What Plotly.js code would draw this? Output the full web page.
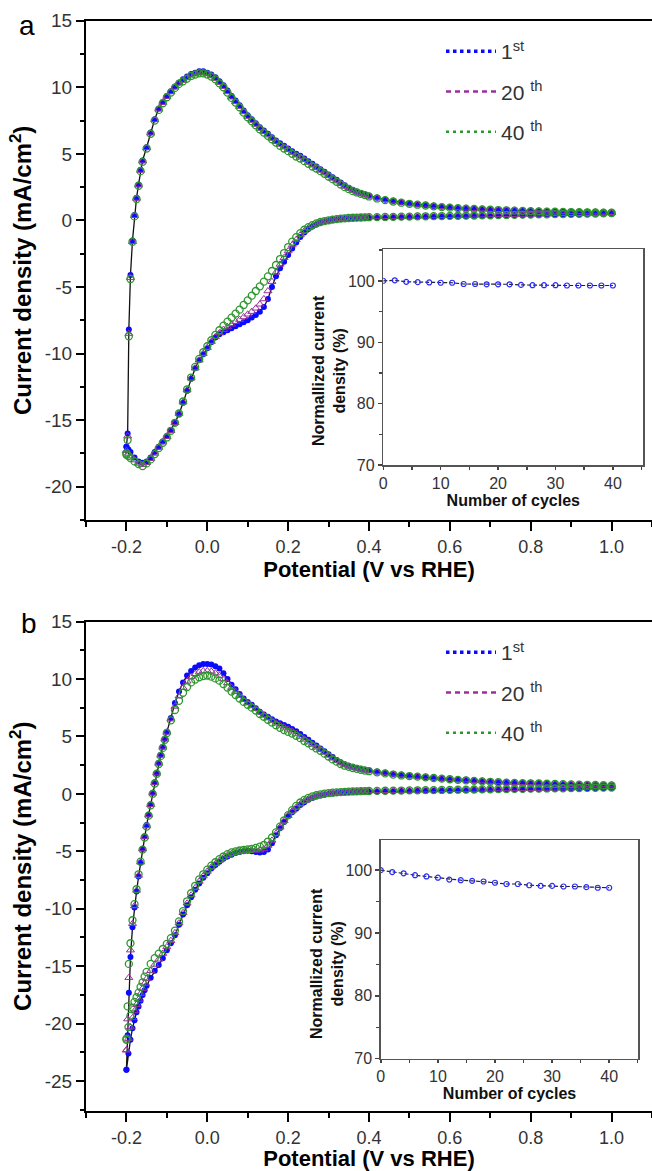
<!DOCTYPE html>
<html>
<head>
<meta charset="utf-8">
<script src="https://cdn.plot.ly/plotly-3.0.1.min.js"></script>
<style>html,body{margin:0;padding:0;background:#fff;}#chart{width:652px;height:1171px;}</style>
</head>
<body>
<div id="chart"></div>
<script>
// ---------- Panel a : potential grids (V vs RHE) ----------
const potA_up = [-0.2,-0.197,-0.194,-0.19,-0.185,-0.18,-0.175,-0.17,-0.165,-0.16,
-0.15,-0.14,-0.13,-0.12,-0.11,-0.1,-0.09,-0.08,-0.07,-0.06,
-0.05,-0.04,-0.03,-0.02,-0.01,0,0.01,0.02,0.03,0.04,
0.05,0.06,0.07,0.08,0.09,0.1,0.11,0.12,0.13,0.14,
0.15,0.16,0.17,0.18,0.19,0.2,0.21,0.22,0.23,0.24,
0.25,0.26,0.27,0.28,0.29,0.3,0.31,0.32,0.33,0.34,
0.35,0.36,0.37,0.38,0.39,0.4,0.42,0.44,0.46,0.48,
0.5,0.52,0.54,0.56,0.58,0.6,0.62,0.64,0.66,0.68,
0.7,0.72,0.74,0.76,0.78,0.8,0.82,0.84,0.86,0.88,
0.9,0.92,0.94,0.96,0.98,1.0];
const potA_down = [1.0,0.98,0.96,0.94,0.92,0.9,0.88,0.86,0.84,0.82,
0.8,0.78,0.76,0.74,0.72,0.7,0.68,0.66,0.64,0.62,
0.6,0.58,0.56,0.54,0.52,0.5,0.48,0.46,0.44,0.42,
0.4,0.39,0.38,0.37,0.36,0.35,0.34,0.33,0.32,0.31,
0.3,0.29,0.28,0.27,0.26,0.25,0.24,0.23,0.22,0.21,
0.2,0.19,0.18,0.17,0.16,0.15,0.14,0.13,0.12,0.11,
0.1,0.09,0.08,0.07,0.06,0.05,0.04,0.03,0.02,0.01,
0,-0.01,-0.02,-0.03,-0.04,-0.05,-0.06,-0.07,-0.08,-0.09,
-0.1,-0.11,-0.12,-0.13,-0.14,-0.15,-0.16,-0.17,-0.18,-0.19,
-0.195,-0.2];

// Panel a current density (mA/cm2), anodic sweep
const a1_up = [-17.0,-16.0,-8.2,-4.1,-1.5,0.4,1.7,2.7,3.8,4.5,
5.5,6.6,7.6,8.4,8.9,9.35,9.7,10.05,10.35,10.6,
10.8,11.0,11.1,11.2,11.2,11.1,10.95,10.75,10.45,10.15,
9.75,9.35,9.0,8.65,8.25,7.9,7.6,7.3,7.0,6.75,
6.5,6.25,6.0,5.8,5.6,5.4,5.2,5.0,4.85,4.65,
4.45,4.25,4.05,3.85,3.65,3.45,3.25,3.05,2.85,2.65,
2.45,2.3,2.15,2.05,1.95,1.85,1.7,1.56,1.45,1.36,
1.28,1.2,1.14,1.08,1.02,0.97,0.93,0.9,0.87,0.84,
0.81,0.79,0.77,0.75,0.73,0.71,0.69,0.67,0.66,0.65,
0.64,0.63,0.62,0.61,0.6,0.59];
const a20_up = [-17.3,-16.2,-8.5,-4.3,-1.6,0.35,1.65,2.65,3.75,4.45,
5.45,6.55,7.55,8.35,8.85,9.3,9.65,10.0,10.3,10.5,
10.7,10.9,11.0,11.1,11.1,11.0,10.85,10.65,10.35,10.05,
9.65,9.25,8.9,8.55,8.15,7.8,7.5,7.2,6.9,6.65,
6.4,6.15,5.9,5.7,5.5,5.3,5.1,4.9,4.75,4.55,
4.35,4.15,3.95,3.75,3.55,3.35,3.15,2.95,2.75,2.55,
2.4,2.25,2.12,2.02,1.92,1.82,1.68,1.55,1.44,1.35,
1.27,1.2,1.14,1.08,1.02,0.98,0.94,0.91,0.88,0.85,
0.82,0.8,0.78,0.76,0.74,0.72,0.7,0.68,0.67,0.66,
0.65,0.64,0.63,0.62,0.61,0.6];
const a40_up = [-17.5,-16.5,-8.7,-4.4,-1.6,0.3,1.6,2.6,3.7,4.4,
5.4,6.5,7.5,8.3,8.8,9.25,9.6,9.95,10.25,10.45,
10.65,10.85,10.95,11.05,11.05,10.95,10.8,10.6,10.3,10.0,
9.6,9.2,8.85,8.5,8.1,7.75,7.45,7.15,6.85,6.6,
6.35,6.1,5.85,5.6,5.4,5.2,5.0,4.8,4.65,4.45,
4.25,4.05,3.9,3.7,3.5,3.3,3.1,2.9,2.7,2.5,
2.35,2.2,2.1,2.0,1.9,1.8,1.65,1.52,1.42,1.33,
1.25,1.18,1.12,1.06,1.0,0.96,0.92,0.89,0.86,0.83,
0.8,0.78,0.76,0.74,0.72,0.7,0.68,0.66,0.65,0.64,
0.63,0.62,0.61,0.6,0.59,0.58];
// Panel a cathodic sweep
const a1_down = [0.5,0.49,0.48,0.47,0.46,0.45,0.44,0.43,0.42,0.41,
0.4,0.39,0.38,0.37,0.36,0.35,0.34,0.33,0.32,0.31,
0.3,0.29,0.28,0.27,0.26,0.25,0.24,0.23,0.22,0.21,
0.2,0.19,0.18,0.17,0.16,0.14,0.12,0.1,0.07,0.04,
-0.04,-0.1,-0.18,-0.3,-0.45,-0.65,-0.9,-1.25,-1.65,-2.1,
-2.6,-3.1,-3.6,-4.2,-5.0,-5.9,-6.5,-6.85,-7.1,-7.3,
-7.5,-7.65,-7.8,-7.95,-8.1,-8.25,-8.4,-8.55,-8.8,-9.15,
-9.6,-10.05,-10.5,-11.1,-11.9,-12.8,-13.7,-14.55,-15.2,-15.75,
-16.2,-16.6,-17.0,-17.4,-17.8,-18.1,-18.2,-18.1,-17.8,-17.4,
-17.2,-17.0];
const a20_down = [0.56,0.54,0.53,0.52,0.51,0.5,0.49,0.48,0.47,0.46,
0.45,0.44,0.43,0.42,0.41,0.4,0.39,0.38,0.37,0.36,
0.35,0.34,0.33,0.32,0.31,0.3,0.29,0.28,0.27,0.26,
0.25,0.24,0.23,0.22,0.2,0.18,0.15,0.12,0.08,0.04,
-0.02,-0.08,-0.15,-0.26,-0.4,-0.57,-0.8,-1.1,-1.45,-1.85,
-2.3,-2.8,-3.3,-3.9,-4.6,-5.3,-5.9,-6.3,-6.6,-6.85,
-7.05,-7.25,-7.45,-7.6,-7.8,-8.0,-8.2,-8.45,-8.75,-9.1,
-9.55,-10.0,-10.5,-11.1,-11.85,-12.75,-13.65,-14.5,-15.2,-15.8,
-16.25,-16.65,-17.05,-17.5,-17.9,-18.2,-18.35,-18.25,-18.0,-17.7,
-17.5,-17.3];
const a40_down = [0.55,0.53,0.52,0.51,0.5,0.49,0.48,0.47,0.46,0.45,
0.44,0.43,0.42,0.41,0.4,0.39,0.38,0.37,0.36,0.35,
0.34,0.33,0.32,0.31,0.3,0.29,0.28,0.27,0.26,0.25,
0.24,0.23,0.22,0.21,0.2,0.18,0.16,0.13,0.1,0.06,
0.01,-0.05,-0.12,-0.22,-0.35,-0.5,-0.7,-0.95,-1.25,-1.6,
-2.0,-2.45,-2.9,-3.35,-3.8,-4.2,-4.6,-4.95,-5.3,-5.65,
-6.0,-6.35,-6.7,-7.0,-7.3,-7.6,-7.9,-8.25,-8.6,-9.0,
-9.45,-9.9,-10.4,-11.0,-11.8,-12.7,-13.6,-14.5,-15.2,-15.8,
-16.3,-16.7,-17.1,-17.55,-17.95,-18.25,-18.45,-18.3,-18.1,-17.85,
-17.7,-17.6];

// ---------- Panel b ----------
const potB_up = [-0.2,-0.197,-0.194,-0.19,-0.185,-0.18,-0.175,-0.17,-0.165,-0.16,
-0.155,-0.15,-0.145,-0.14,-0.135,-0.13,-0.125,-0.12,-0.115,-0.11,
-0.105,-0.1,-0.09,-0.08,-0.07,-0.06,-0.05,-0.04,-0.03,-0.02,
-0.01,0,0.01,0.02,0.03,0.04,0.05,0.06,0.07,0.08,
0.09,0.1,0.11,0.12,0.13,0.14,0.15,0.16,0.17,0.18,
0.19,0.2,0.21,0.22,0.23,0.24,0.25,0.26,0.27,0.28,
0.29,0.3,0.31,0.32,0.33,0.34,0.35,0.36,0.37,0.38,
0.39,0.4,0.42,0.44,0.46,0.48,0.5,0.52,0.54,0.56,
0.58,0.6,0.62,0.64,0.66,0.68,0.7,0.72,0.74,0.76,
0.78,0.8,0.82,0.84,0.86,0.88,0.9,0.92,0.94,0.96,
0.98,1.0];
const potB_down = [1.0,0.98,0.96,0.94,0.92,0.9,0.88,0.86,0.84,0.82,
0.8,0.78,0.76,0.74,0.72,0.7,0.68,0.66,0.64,0.62,
0.6,0.58,0.56,0.54,0.52,0.5,0.48,0.46,0.44,0.42,
0.4,0.39,0.38,0.37,0.36,0.35,0.34,0.33,0.32,0.31,
0.3,0.29,0.28,0.27,0.26,0.25,0.24,0.23,0.22,0.21,
0.2,0.19,0.18,0.17,0.16,0.15,0.14,0.13,0.12,0.11,
0.1,0.09,0.08,0.07,0.06,0.05,0.04,0.03,0.02,0.01,
0,-0.01,-0.02,-0.03,-0.04,-0.05,-0.06,-0.07,-0.08,-0.09,
-0.1,-0.11,-0.12,-0.13,-0.14,-0.15,-0.155,-0.16,-0.165,-0.17,
-0.175,-0.18,-0.185,-0.19,-0.195,-0.2];

const b1_up = [-24.0,-21.0,-17.3,-14.2,-11.6,-9.9,-8.5,-7.2,-6.0,-4.8,
-3.7,-2.7,-1.8,-0.9,0.1,1.0,1.8,2.7,3.4,4.1,
4.8,5.4,6.6,7.9,8.9,9.7,10.3,10.7,11.0,11.2,
11.3,11.3,11.25,11.1,10.9,10.5,10.0,9.5,9.1,8.7,
8.3,8.0,7.75,7.45,7.15,6.9,6.7,6.5,6.3,6.15,
6.0,5.85,5.65,5.45,5.2,4.95,4.7,4.45,4.2,3.95,
3.7,3.45,3.2,2.95,2.75,2.58,2.45,2.35,2.25,2.17,
2.1,2.03,1.92,1.82,1.72,1.64,1.57,1.5,1.44,1.38,
1.32,1.27,1.22,1.18,1.13,1.09,1.05,1.01,0.98,0.96,
0.94,0.92,0.9,0.88,0.86,0.84,0.82,0.8,0.79,0.77,
0.75,0.73];
const b20_up = [-22.3,-19.6,-16.0,-13.6,-11.3,-9.75,-8.4,-7.1,-5.95,-4.8,
-3.75,-2.8,-1.85,-0.95,0.05,0.95,1.8,2.65,3.35,4.05,
4.75,5.35,6.5,7.6,8.5,9.25,9.8,10.2,10.45,10.6,
10.7,10.7,10.65,10.5,10.3,10.0,9.65,9.25,8.9,8.55,
8.2,7.9,7.65,7.4,7.1,6.85,6.6,6.38,6.15,5.97,
5.8,5.62,5.45,5.25,5.0,4.75,4.5,4.3,4.05,3.85,
3.6,3.35,3.1,2.88,2.68,2.52,2.4,2.3,2.22,2.14,
2.07,2.0,1.9,1.81,1.71,1.63,1.56,1.51,1.46,1.4,
1.34,1.29,1.24,1.2,1.15,1.11,1.07,1.03,1.0,0.98,
0.96,0.94,0.92,0.9,0.88,0.86,0.84,0.82,0.8,0.78,
0.77,0.76];
const b40_up = [-21.3,-18.5,-14.8,-13.0,-11.0,-9.6,-8.3,-7.0,-5.9,-4.85,
-3.8,-2.85,-1.9,-1.0,0.0,0.9,1.75,2.6,3.3,4.0,
4.7,5.3,6.4,7.3,8.1,8.8,9.3,9.7,9.95,10.15,
10.25,10.3,10.2,10.05,9.85,9.55,9.25,8.9,8.6,8.3,
8.0,7.75,7.5,7.25,6.95,6.7,6.45,6.2,5.97,5.75,
5.55,5.4,5.25,5.05,4.85,4.6,4.4,4.15,3.95,3.75,
3.5,3.25,3.0,2.8,2.6,2.45,2.35,2.25,2.18,2.1,
2.03,1.97,1.87,1.78,1.68,1.6,1.55,1.5,1.44,1.38,
1.32,1.27,1.22,1.18,1.13,1.09,1.05,1.01,0.98,0.96,
0.94,0.92,0.9,0.88,0.86,0.84,0.82,0.8,0.79,0.77,
0.75,0.73];
const b1_down = [0.5,0.49,0.48,0.47,0.46,0.45,0.44,0.43,0.42,0.41,
0.4,0.39,0.38,0.37,0.36,0.35,0.34,0.33,0.32,0.31,
0.3,0.29,0.28,0.27,0.26,0.25,0.24,0.23,0.22,0.21,
0.2,0.19,0.18,0.17,0.16,0.15,0.13,0.1,0.07,0.03,
-0.02,-0.08,-0.15,-0.24,-0.36,-0.52,-0.72,-0.98,-1.3,-1.6,
-1.95,-2.45,-3.0,-3.6,-4.3,-4.85,-5.05,-5.1,-5.05,-5.0,
-4.95,-5.0,-5.05,-5.15,-5.3,-5.45,-5.65,-5.9,-6.2,-6.5,
-6.9,-7.3,-7.8,-8.35,-9.0,-9.7,-10.5,-11.4,-12.3,-13.0,
-13.6,-14.3,-14.9,-15.4,-16.0,-16.7,-17.1,-17.5,-18.0,-18.5,
-19.0,-19.7,-20.4,-21.4,-22.6,-24.0];
const b20_down = [0.6,0.58,0.56,0.54,0.52,0.5,0.49,0.48,0.47,0.46,
0.45,0.44,0.43,0.42,0.41,0.4,0.39,0.38,0.37,0.36,
0.35,0.34,0.33,0.32,0.31,0.3,0.29,0.28,0.27,0.26,
0.25,0.24,0.23,0.22,0.21,0.19,0.17,0.14,0.1,0.06,
0.01,-0.05,-0.12,-0.2,-0.3,-0.44,-0.62,-0.88,-1.18,-1.5,
-1.9,-2.35,-2.9,-3.45,-4.05,-4.5,-4.8,-4.9,-4.9,-4.9,
-4.9,-4.94,-5.0,-5.08,-5.2,-5.35,-5.55,-5.8,-6.08,-6.38,
-6.75,-7.15,-7.62,-8.18,-8.82,-9.52,-10.35,-11.25,-12.1,-12.78,
-13.32,-13.9,-14.4,-14.85,-15.4,-16.1,-16.5,-16.95,-17.4,-17.9,
-18.35,-18.9,-19.5,-20.3,-21.3,-22.3];
const b40_down = [0.55,0.54,0.53,0.52,0.51,0.5,0.49,0.48,0.47,0.46,
0.45,0.44,0.43,0.42,0.41,0.4,0.39,0.38,0.37,0.36,
0.35,0.34,0.33,0.32,0.31,0.3,0.29,0.28,0.27,0.26,
0.25,0.24,0.23,0.22,0.21,0.19,0.17,0.15,0.13,0.1,
0.06,0.02,-0.04,-0.12,-0.22,-0.35,-0.52,-0.75,-1.05,-1.42,
-1.85,-2.3,-2.85,-3.35,-3.8,-4.15,-4.45,-4.6,-4.7,-4.78,
-4.83,-4.88,-4.93,-5.0,-5.1,-5.25,-5.45,-5.68,-5.95,-6.25,
-6.6,-7.0,-7.45,-8.0,-8.65,-9.35,-10.2,-11.1,-11.9,-12.55,
-13.05,-13.5,-13.9,-14.3,-14.8,-15.5,-15.9,-16.4,-16.8,-17.3,
-17.7,-18.1,-18.6,-19.3,-20.3,-21.4];

// ---------- Insets : normalized current density vs cycle ----------
const cycles = [0,2,4,6,8,10,12,14,16,18,20,22,24,26,28,30,32,34,36,38,40];
const retA = [100,100.1,99.85,99.8,99.75,99.7,99.7,99.5,99.5,99.45,99.45,99.45,99.35,99.3,99.3,99.3,99.25,99.25,99.25,99.25,99.25];
const retB = [100,99.7,99.5,99.2,99.0,98.8,98.5,98.4,98.3,98.2,98.0,97.8,97.8,97.6,97.5,97.5,97.4,97.4,97.3,97.2,97.2];

// ---------- Tick labels / legend labels / titles ----------
const xTickVals = [-0.2,0,0.2,0.4,0.6,0.8,1.0];
const xTickText = ['-0.2','0.0','0.2','0.4','0.6','0.8','1.0'];
const yTickValsA = [-20,-15,-10,-5,0,5,10,15];
const yTickTextA = ['-20','-15','-10','-5','0','5','10','15'];
const yTickValsB = [-25,-20,-15,-10,-5,0,5,10,15];
const yTickTextB = ['-25','-20','-15','-10','-5','0','5','10','15'];
const inXTicks = [0,10,20,30,40];
const inYTicks = [70,80,90,100];
const seriesNames = ['1<sup>st</sup>','20 <sup>th</sup>','40 <sup>th</sup>'];
const insetYTitle = '<b>Normallized current<br>density (%)</b>';

const FONT = 'Liberation Sans, Arial, Helvetica, sans-serif';
const C_BLUE = '#0a0aff', C_PURP = '#9a2f9a', C_GREEN = '#2c982c';

function loop(xu, yu, xd, yd){ return {x: xu.concat(xd), y: yu.concat(yd)}; }

function cvTraces(xa, ya, d1, d20, d40){
  return [
    {x:d1.x, y:d1.y, xaxis:xa, yaxis:ya, type:'scatter', mode:'lines+markers', showlegend:false,
     line:{color:'#111', width:1.3}, marker:{symbol:'circle', size:6, color:C_BLUE}},
    {x:d20.x, y:d20.y, xaxis:xa, yaxis:ya, type:'scatter', mode:'markers', showlegend:false,
     marker:{symbol:'triangle-up-open', size:7, color:C_PURP, line:{width:1, color:C_PURP}}},
    {x:d40.x, y:d40.y, xaxis:xa, yaxis:ya, type:'scatter', mode:'markers', showlegend:false,
     marker:{symbol:'circle-open', size:7, color:C_GREEN, line:{width:1.3, color:C_GREEN}}}
  ];
}
function legendProxies(leg){
  return [
    {x:[null], y:[null], type:'scatter', mode:'lines', name:seriesNames[0], legend:leg, legendgroup:leg+'1',
     line:{color:C_BLUE, width:3.5, dash:'3.5px,3.5px'}},
    {x:[null], y:[null], type:'scatter', mode:'lines', name:seriesNames[1], legend:leg, legendgroup:leg+'20',
     line:{color:C_PURP, width:2.5, dash:'5px,4px'}},
    {x:[null], y:[null], type:'scatter', mode:'lines', name:seriesNames[2], legend:leg, legendgroup:leg+'40',
     line:{color:C_GREEN, width:2.5, dash:'3px,4px'}}
  ];
}

const data = []
  .concat(cvTraces('x','y', loop(potA_up,a1_up,potA_down,a1_down), loop(potA_up,a20_up,potA_down,a20_down), loop(potA_up,a40_up,potA_down,a40_down)))
  .concat(cvTraces('x2','y2', loop(potB_up,b1_up,potB_down,b1_down), loop(potB_up,b20_up,potB_down,b20_down), loop(potB_up,b40_up,potB_down,b40_down)))
  .concat([
    {x:cycles, y:retA, xaxis:'x3', yaxis:'y3', type:'scatter', mode:'lines+markers', showlegend:false,
     line:{color:'#222', width:1.2, dash:'4px,2px'}, marker:{symbol:'circle-open', size:5, color:'#2a2aff', line:{width:1.2, color:'#2a2aff'}}},
    {x:cycles, y:retB, xaxis:'x4', yaxis:'y4', type:'scatter', mode:'lines+markers', showlegend:false,
     line:{color:'#222', width:1.2, dash:'4px,2px'}, marker:{symbol:'circle-open', size:5, color:'#2a2aff', line:{width:1.2, color:'#2a2aff'}}}
  ])
  .concat(legendProxies('legend'))
  .concat(legendProxies('legend2'));

const W = 652, H = 1171;
const px = v => v / W;
const py = v => 1 - v / H;

function mainX(anchor){
  return {
    anchor: anchor, domain:[px(86), 1], range:[-0.3, 1.1],
    tickmode:'array', tickvals:xTickVals, ticktext:xTickText,
    ticks:'outside', ticklen:9, tickwidth:2, tickcolor:'#000',
    minor:{ticks:'outside', ticklen:5, tickwidth:2, tickcolor:'#000', dtick:0.1, tick0:0},
    showline:true, linewidth:2, linecolor:'#000', mirror:true,
    showgrid:false, zeroline:false,
    tickfont:{family:FONT, size:18, color:'#333'},
    title:{text:'<b>Potential (V vs RHE)</b>', font:{family:FONT, size:22, color:'#000'}, standoff:0}
  };
}
function mainY(anchor, top, bottom, range, tv, tt){
  return {
    anchor: anchor, domain:[py(bottom), py(top)], range:range,
    tickmode:'array', tickvals:tv, ticktext:tt,
    ticks:'outside', ticklen:8, tickwidth:2, tickcolor:'#000',
    minor:{ticks:'outside', ticklen:4, tickwidth:2, tickcolor:'#000', dtick:2.5, tick0:0},
    showline:true, linewidth:2, linecolor:'#000',
    showgrid:false, zeroline:false,
    tickfont:{family:FONT, size:19, color:'#333'},
    title:{text:'<b>Current density (mA/cm<sup>2</sup>)</b>', font:{family:FONT, size:24, color:'#000'}, standoff:6}
  };
}
function insetX(anchor, left, right, xmax){
  return {
    anchor: anchor, domain:[px(left), px(right)], range:[0, xmax],
    tickmode:'array', tickvals:inXTicks, ticktext:inXTicks.map(String),
    ticks:'outside', ticklen:3, tickwidth:1.5, tickcolor:'#444',
    minor:{ticks:'outside', ticklen:3, tickwidth:1.5, tickcolor:'#444', dtick:5, tick0:0},
    showline:true, linewidth:1.5, linecolor:'#555', mirror:true,
    showgrid:false, zeroline:false,
    tickfont:{family:FONT, size:16, color:'#333'},
    title:{text:'<b>Number of cycles</b>', font:{family:FONT, size:16, color:'#111'}, standoff:2}
  };
}
function insetY(anchor, top, bottom, ymax){
  return {
    anchor: anchor, domain:[py(bottom), py(top)], range:[70, ymax],
    tickmode:'array', tickvals:inYTicks, ticktext:inYTicks.map(String),
    ticks:'outside', ticklen:4, tickwidth:1.5, tickcolor:'#444',
    minor:{ticks:'outside', ticklen:3, tickwidth:1.5, tickcolor:'#444', dtick:5, tick0:0},
    showline:true, linewidth:1.5, linecolor:'#555', mirror:true,
    showgrid:false, zeroline:false,
    tickfont:{family:FONT, size:16, color:'#333'}
  };
}

const legendBase = {
  xanchor:'left', yanchor:'top', bgcolor:'rgba(0,0,0,0)', borderwidth:0,
  font:{family:FONT, size:21, color:'#333'}, itemwidth:50, tracegroupgap:10
};

const layout = {
  width:W, height:H, margin:{l:0, r:0, t:0, b:0},
  paper_bgcolor:'#fff', plot_bgcolor:'rgba(0,0,0,0)',
  showlegend:true,
  xaxis: mainX('y'),
  yaxis: mainY('x', 20.7, 520, [-22.5, 15], yTickValsA, yTickTextA),
  xaxis2: mainX('y2'),
  yaxis2: mainY('x2', 621.5, 1111, [-27.6, 15], yTickValsB, yTickTextB),
  xaxis3: insetX('y3', 383.3, 643.3, 45.3),
  yaxis3: insetY('x3', 249, 465, 105.2),
  xaxis4: insetX('y4', 380.8, 638.3, 45.1),
  yaxis4: insetY('x4', 840, 1058.7, 104.8),
  legend: Object.assign({x:px(441), y:py(31)}, legendBase),
  legend2: Object.assign({x:px(441), y:py(632)}, legendBase),
  annotations:[
    {text:'a', xref:'paper', yref:'paper', x:px(27), y:py(25), xanchor:'center', yanchor:'middle', showarrow:false,
     font:{family:FONT, size:28, color:'#000'}},
    {text:'b', xref:'paper', yref:'paper', x:px(29), y:py(623), xanchor:'center', yanchor:'middle', showarrow:false,
     font:{family:FONT, size:28, color:'#000'}},
    {text:insetYTitle, xref:'paper', yref:'paper', x:px(329), y:py(371), xanchor:'center', yanchor:'middle',
     textangle:-90, showarrow:false, font:{family:FONT, size:16, color:'#111'}},
    {text:insetYTitle, xref:'paper', yref:'paper', x:px(327), y:py(964), xanchor:'center', yanchor:'middle',
     textangle:-90, showarrow:false, font:{family:FONT, size:16, color:'#111'}}
  ]
};

Plotly.newPlot('chart', data, layout, {staticPlot:true, displayModeBar:false});
</script>
</body>
</html>
